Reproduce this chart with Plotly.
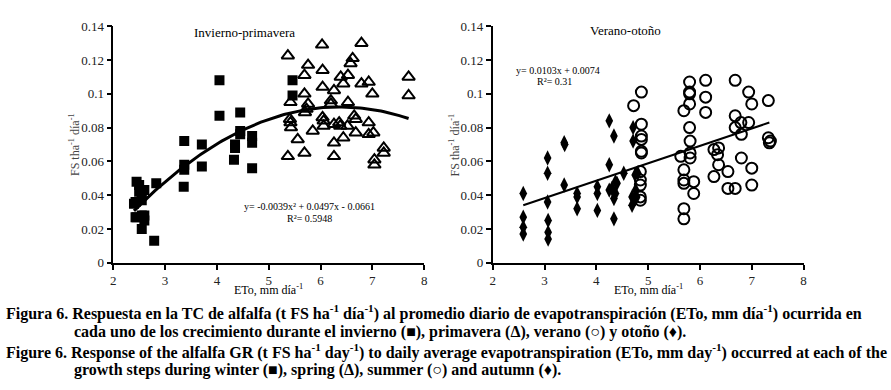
import plotly.graph_objects as go
import numpy as np

# ---- Data: Invierno (squares) ----
win_x = [2.43, 2.43, 2.45, 2.5, 2.5, 2.55, 2.6, 2.55, 2.4, 2.45, 2.55, 2.6, 2.55, 2.6,
         2.79, 2.83, 3.37, 3.37, 3.37, 3.36, 3.71, 3.71, 4.05, 4.05, 4.35, 4.35, 4.33,
         4.45, 4.45, 4.45, 4.68, 4.68, 4.68, 5.46, 5.46]
win_y = [0.036, 0.027, 0.048, 0.046, 0.042, 0.040, 0.043, 0.037, 0.035, 0.027, 0.028, 0.025, 0.020, 0.028,
         0.013, 0.047, 0.072, 0.058, 0.055, 0.045, 0.070, 0.057, 0.108, 0.087, 0.070, 0.068, 0.061,
         0.089, 0.078, 0.076, 0.075, 0.071, 0.056, 0.108, 0.099]

# ---- Data: Primavera (triangles) ----
spr_x = [5.37, 5.37, 5.42, 5.41, 5.42, 5.43, 5.56, 5.69, 5.69, 5.69, 5.70, 5.73, 5.76, 5.76, 5.85,
         6.03, 6.04, 6.04, 6.04, 6.06, 6.06, 6.20, 6.20, 6.26, 6.26, 6.26, 6.26, 6.36, 6.38, 6.39,
         6.44, 6.44, 6.52, 6.53, 6.53, 6.58, 6.62, 6.65, 6.68, 6.68, 6.79, 6.79, 6.93, 6.93, 6.93,
         7.00, 7.02, 7.04, 7.04, 7.22, 7.22, 7.70, 7.70]
spr_y = [0.1226, 0.063, 0.095, 0.085, 0.083, 0.080, 0.073, 0.111, 0.100, 0.065, 0.089, 0.091, 0.117, 0.094, 0.078,
         0.129, 0.114, 0.104, 0.086, 0.084, 0.081, 0.096, 0.094, 0.102, 0.082, 0.071, 0.063, 0.083, 0.081, 0.110,
         0.106, 0.074, 0.081, 0.095, 0.111, 0.118, 0.121, 0.087, 0.085, 0.077, 0.130, 0.106, 0.107, 0.083, 0.076,
         0.100, 0.077, 0.061, 0.058, 0.068, 0.065, 0.110, 0.099]

# ---- Data: Otoño (diamonds) ----
aut_x = [2.59, 2.59, 2.59, 2.59, 3.06, 3.06, 3.06, 3.07, 3.07, 3.07, 3.38, 3.39, 3.38, 3.63, 3.63, 3.63,
         4.02, 4.02, 4.02, 4.25, 4.25, 4.25, 4.30, 4.34, 4.34, 4.34, 4.37, 4.37, 4.40, 4.53, 4.71, 4.71,
         4.69, 4.69, 4.75, 4.76, 4.78, 4.75, 4.80]
aut_y = [0.041, 0.027, 0.021, 0.017, 0.062, 0.053, 0.036, 0.025, 0.018, 0.014, 0.071, 0.070, 0.046, 0.041, 0.039, 0.032,
         0.045, 0.041, 0.031, 0.084, 0.058, 0.043, 0.044, 0.075, 0.038, 0.026, 0.041, 0.048, 0.047, 0.053, 0.080, 0.072,
         0.039, 0.034, 0.052, 0.043, 0.039, 0.038, 0.053]

# ---- Data: Verano (circles) ----
sum_x = [4.72, 4.87, 4.87, 4.87, 4.87, 4.87, 4.87, 4.85, 4.85, 4.85, 4.85, 4.85, 5.63, 5.69, 5.69, 5.69, 5.69,
         5.69, 5.69, 5.80, 5.80, 5.80, 5.80, 5.80, 5.81, 5.81, 5.81, 5.88, 5.88, 6.11, 6.11, 6.11, 6.27, 6.27,
         6.34, 6.36, 6.36, 6.54, 6.54, 6.68, 6.68, 6.68, 6.68, 6.79, 6.80, 6.80, 6.94, 6.94, 7.00, 7.00, 7.00,
         7.32, 7.32, 7.34, 7.36]
sum_y = [0.093, 0.101, 0.082, 0.075, 0.073, 0.066, 0.065, 0.054, 0.049, 0.046, 0.039, 0.037, 0.063, 0.090, 0.055,
         0.049, 0.047, 0.032, 0.026, 0.107, 0.101, 0.100, 0.094, 0.080, 0.072, 0.065, 0.062, 0.048, 0.041, 0.108,
         0.098, 0.089, 0.051, 0.067, 0.064, 0.068, 0.058, 0.054, 0.044, 0.044, 0.108, 0.087, 0.080, 0.083, 0.076,
         0.062, 0.101, 0.083, 0.094, 0.056, 0.046, 0.096, 0.074, 0.071, 0.072]

# Regression coefficients (from chart)
quad = [-0.0039, 0.0497, -0.0661]
quad_range = [2.4, 7.7]
lin = [0.0103, 0.0074]
lin_range = [2.59, 7.34]

x_ticks = [2, 3, 4, 5, 6, 7, 8]
y_ticks = [0, 0.02, 0.04, 0.06, 0.08, 0.1, 0.12, 0.14]
y_tick_labels = ["0", "0.02", "0.04", "0.06", "0.08", "0.1", "0.12", "0.14"]

SERIF = "Liberation Serif, Times New Roman, Times, serif"
W, H = 891, 390

fig = go.Figure()

qx = np.linspace(quad_range[0], quad_range[1], 120)
qy = np.polyval(quad, qx)
lx = np.array(lin_range)
ly = np.polyval(lin, lx)

fig.add_trace(go.Scatter(x=win_x, y=win_y, mode="markers", xaxis="x", yaxis="y",
                         marker=dict(symbol="square", size=10, color="black")))
fig.add_trace(go.Scatter(x=spr_x, y=spr_y, mode="markers", xaxis="x", yaxis="y",
                         marker=dict(symbol="triangle-up-open", size=11, color="black",
                                     line=dict(width=2, color="black"))))
fig.add_trace(go.Scatter(x=qx, y=qy, mode="lines", xaxis="x", yaxis="y",
                         line=dict(color="black", width=3)))

fig.add_trace(go.Scatter(x=aut_x, y=aut_y, mode="markers", xaxis="x2", yaxis="y2",
                         marker=dict(symbol="diamond-tall", size=11, color="black")))
fig.add_trace(go.Scatter(x=sum_x, y=sum_y, mode="markers", xaxis="x2", yaxis="y2",
                         marker=dict(symbol="circle-open", size=11, color="black",
                                     line=dict(width=2, color="black"))))
fig.add_trace(go.Scatter(x=lx, y=ly, mode="lines", xaxis="x2", yaxis="y2",
                         line=dict(color="black", width=2)))

def px2x(p):
    return p / W

def px2y(p):
    return 1 - p / H

xdom1 = [px2x(111), px2x(424)]
xdom2 = [px2x(493), px2x(806)]
ydom = [px2y(266), px2y(20)]

axis_common = dict(showline=True, linecolor="black", linewidth=1.5, ticks="outside",
                   ticklen=5, tickwidth=1.5, tickcolor="black", showgrid=False, zeroline=False,
                   tickfont=dict(family=SERIF, size=13, color="#222"))

fig.update_layout(
    width=W, height=H,
    margin=dict(l=0, r=0, t=0, b=0),
    paper_bgcolor="white", plot_bgcolor="white",
    showlegend=False,
    xaxis=dict(domain=xdom1, range=[2, 8], tickvals=x_ticks, anchor="y", **axis_common),
    yaxis=dict(domain=ydom, range=[0, 0.14], tickvals=y_ticks, ticktext=y_tick_labels,
               anchor="x", **axis_common),
    xaxis2=dict(domain=xdom2, range=[2, 8], tickvals=x_ticks, anchor="y2", **axis_common),
    yaxis2=dict(domain=ydom, range=[0, 0.14], tickvals=y_ticks, ticktext=y_tick_labels,
                anchor="x2", **axis_common),
)

ann = []
def add_text(text, x, y, size, color="black", angle=0, xanchor="center"):
    ann.append(dict(text=text, x=px2x(x), y=px2y(y), xref="paper", yref="paper",
                    showarrow=False, xanchor=xanchor, yanchor="middle", textangle=angle,
                    borderpad=0,
                    font=dict(family=SERIF, size=size, color=color)))

add_text("Invierno-primavera", 243, 27, 13)
add_text("Verano-otoño", 627, 24, 13)
add_text("y= -0.0039x² + 0.0497x - 0.0661", 309, 207, 10)
add_text("R²= 0.5948", 309, 220, 10)
add_text("y= 0.0103x + 0.0074", 559, 66, 10)
add_text("R²= 0.31", 555, 78, 10)
add_text("FS tha<sup>-1</sup> día<sup>-1</sup>", 72, 143, 12, color="#444", angle=-90)
add_text("FS tha<sup>-1</sup> día<sup>-1</sup>", 455, 143, 12, color="#444", angle=-90)
add_text("ETo, mm día<sup>-1</sup>", 267, 294, 12)
add_text("ETo, mm día<sup>-1</sup>", 650, 294, 12)

cap_size = 16
add_text("<b>Figura 6. Respuesta en la TC de alfalfa (t FS ha<sup>-1</sup> día<sup>-1</sup>) al promedio diario de evapotranspiración (ETo, mm día<sup>-1</sup>) ocurrida en</b>",
         2, 318, cap_size, xanchor="left")
add_text("<b>cada uno de los crecimiento durante el invierno (■), primavera (Δ), verano (○) y otoño (♦).</b>",
         70, 338, cap_size, xanchor="left")
add_text("<b>Figure 6. Response of the alfalfa GR (t FS ha<sup>-1</sup> day<sup>-1</sup>) to daily average evapotranspiration (ETo, mm day<sup>-1</sup>) occurred at each of the</b>",
         2, 358, cap_size, xanchor="left")
add_text("<b>growth steps during winter (■), spring (Δ), summer (○) and autumn (♦).</b>",
         70, 378, cap_size, xanchor="left")

fig.update_layout(annotations=ann)
fig.write_html("out.html", config={"displayModeBar": False},
               post_script="document.body.style.margin='0';")
